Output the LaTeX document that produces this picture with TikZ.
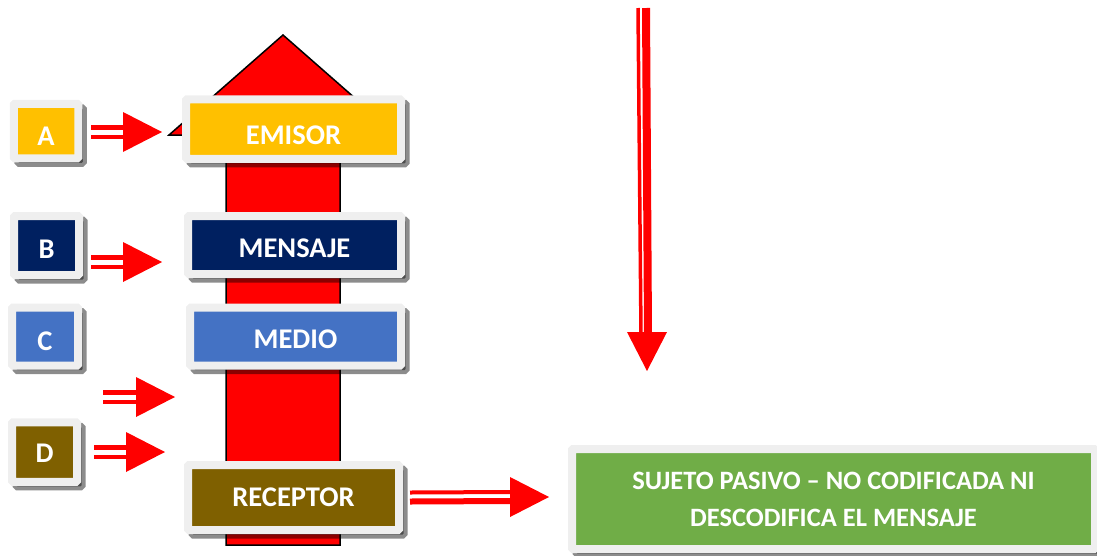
\documentclass[tikz,border=0pt]{standalone}
\usepackage{fontspec}
\setmainfont{Carlito}
\definecolor{frame}{HTML}{EFEFEF}
\definecolor{cgold}{HTML}{FFC000}
\definecolor{cnavy}{HTML}{002060}
\definecolor{cblue}{HTML}{4472C4}
\definecolor{cbrown}{HTML}{7F6000}
\definecolor{cgreen}{HTML}{70AD47}
\definecolor{cred}{HTML}{FF0000}
\tikzset{
  box/.style={fill=#1, draw=frame, line width=8pt, rounded corners=1pt,
    inner sep=0pt,
    preaction={draw=black, fill=black, opacity=0.45, line width=8pt,
      transform canvas={shift={(4.5pt,-4.5pt)}}}},
  lbl/.style={text=white, inner sep=0pt, font=\bfseries\fontsize{28.5}{32}\selectfont},
  shaftA/.style={draw=cred, line width=#1},
  headfill/.style={fill=cred},
}
\newcommand\harrow[2]{%
  \draw[shaftA=5pt] ([yshift=4.5pt]#1) -- ([yshift=4.5pt,xshift=-36pt]#2);
  \draw[shaftA=4.5pt] ([yshift=-4.75pt]#1) -- ([yshift=-4.75pt,xshift=-36pt]#2);
  \fill[headfill] ([xshift=-39pt,yshift=20pt]#2) -- (#2) -- ([xshift=-39pt,yshift=-20pt]#2) -- cycle;}
\begin{document}
\begin{tikzpicture}[x=1pt,y=-1pt]
\useasboundingbox (0,0) rectangle (1097,555);
% big arrow
\draw[fill=cred, draw=black, line width=1.5pt, line join=miter]
  (226,545) -- (226,135) -- (169,135) -- (283,35) -- (397,135) -- (340,135) -- (340,545) -- cycle;
% boxes
\node[box=cgold, minimum width=64.5pt, minimum height=54.5pt,
  label={[lbl,yshift=-5pt]center:A}] (A) at (46,131) {};
\node[box=cnavy, minimum width=65pt, minimum height=59pt,
  label={[lbl,yshift=-4pt]center:B}] (B) at (46.5,245.5) {};
\node[box=cblue, minimum width=66pt, minimum height=58pt,
  label={[lbl,yshift=-5pt]center:C}] (C) at (45,336.5) {};
\node[box=cbrown, minimum width=65pt, minimum height=59.5pt,
  label={[lbl,yshift=-1pt]center:D}] (D) at (44.5,452) {};
\node[box=cgold, minimum width=215pt, minimum height=59.5pt,
  label={[lbl,yshift=-6pt]center:EMISOR}] (emisor) at (293.5,129) {};
\node[box=cnavy, minimum width=213pt, minimum height=58pt,
  label={[lbl,yshift=-3pt]center:MENSAJE}] (mensaje) at (294.5,245) {};
\node[box=cblue, minimum width=211pt, minimum height=58pt,
  label={[lbl,yshift=-3pt]center:MEDIO}] (medio) at (295.5,336.5) {};
\node[box=cbrown, minimum width=211pt, minimum height=65pt,
  label={[lbl]center:RECEPTOR}] (receptor) at (293.5,497.5) {};
\node[box=cgreen, minimum width=523pt, minimum height=100pt] (sujeto) at (833.5,499) {};
\node[lbl, align=center, font=\bfseries\fontsize{26.5}{37}\selectfont] (sujetotxt) at (sujeto.center)
  {SUJETO PASIVO – NO CODIFICADA NI\\DESCODIFICA EL MENSAJE};
% arrows
\coordinate (a1) at (91,132); \coordinate (a2) at (162,132);
\coordinate (b1) at (91,262); \coordinate (b2) at (162,262);
\coordinate (c1) at (103,397); \coordinate (c2) at (175,397);
\coordinate (d1) at (94,452); \coordinate (d2) at (165,452);
\coordinate (r1) at (receptor.east); \coordinate (r2) at (549,497);
\harrow{a1}{a2}
\harrow{b1}{b2}
\harrow{c1}{c2}
\harrow{d1}{d2}
\draw[shaftA=4pt] ([yshift=5pt,xshift=7pt]r1) -- ([yshift=5pt,xshift=-36pt]r2);
\draw[shaftA=6pt] ([yshift=-4pt,xshift=7pt]r1) -- ([yshift=-4pt,xshift=-36pt]r2);
\fill[headfill] ([xshift=-39pt,yshift=20pt]r2) -- (r2) -- ([xshift=-39pt,yshift=-20pt]r2) -- cycle;
% vertical arrow
\coordinate (v1) at (645,8); \coordinate (v2) at (647,371);
\draw[shaftA=3.5pt] ([xshift=-7pt]v1) -- ([xshift=-6pt,yshift=37pt]v2);
\draw[shaftA=8pt] ([xshift=1pt]v1) -- ([xshift=1pt,yshift=37pt]v2);
\fill[headfill] ([xshift=-20pt,yshift=39pt]v2) -- (v2) -- ([xshift=20pt,yshift=39pt]v2) -- cycle;
\end{tikzpicture}
\end{document}
